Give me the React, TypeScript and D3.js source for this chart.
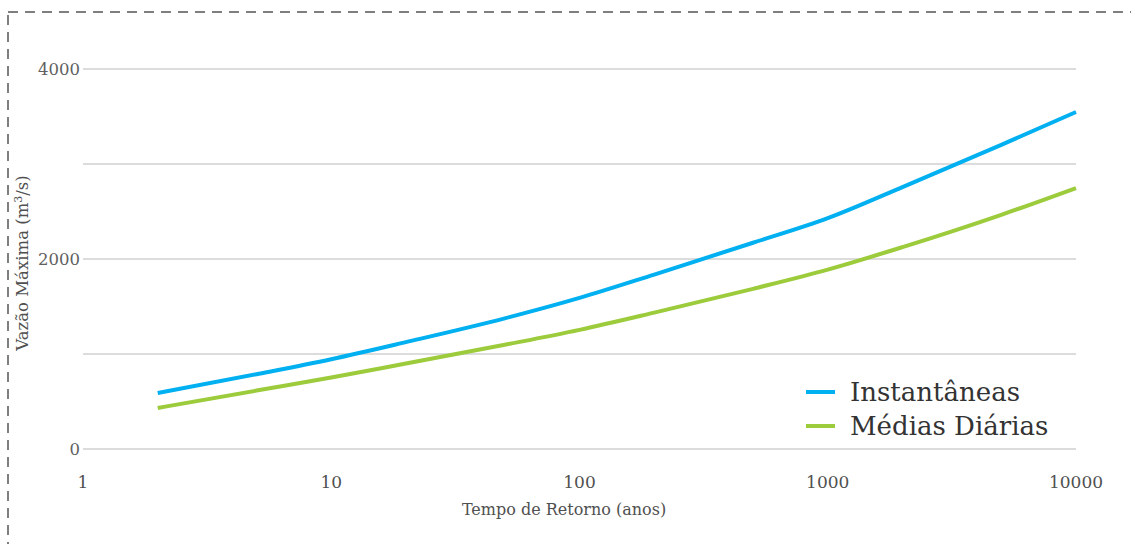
import React from "react";
import * as d3 from "d3";

const returnPeriods = [2, 5, 10, 20, 50, 100, 200, 500, 1000, 2000, 5000, 10000];
const instantaneas = [589, 787, 945, 1125, 1375, 1590, 1836, 2171, 2430, 2757, 3201, 3547];
const mediasDiarias = [432, 615, 752, 900, 1097, 1254, 1435, 1686, 1888, 2125, 2465, 2747];
const xTicks = [1, 10, 100, 1000, 10000];
const yTicks = [0, 1000, 2000, 3000, 4000];
const yLabelTicks = [0, 2000, 4000];
const seriesNames = ["Instantâneas", "Médias Diárias"];
const seriesColors = ["#00b0f0", "#9ccb3b"];

const W = 1131;
const H = 544;
const FONT = "'DejaVu Serif', serif";

export default function App() {
  const x = d3.scaleLog().domain([1, 10000]).range([83, 1076]);
  const y = d3.scaleLinear().domain([0, 4000]).range([449, 69]);
  const line = d3
    .line<number>()
    .x((_, i) => x(returnPeriods[i]))
    .y((d) => y(d))
    .curve(d3.curveMonotoneX);
  const series = [instantaneas, mediasDiarias];

  return (
    <svg
      width={W}
      height={H}
      style={{ position: "absolute", left: 0, top: 0, background: "#fff" }}
    >
      <rect
        x={8}
        y={12}
        width={W + 20}
        height={H + 20}
        fill="none"
        stroke="#555"
        strokeWidth={1.5}
        strokeDasharray="10,7"
      />
      {yTicks.map((t) => (
        <line
          key={t}
          x1={83}
          x2={1076}
          y1={y(t)}
          y2={y(t)}
          stroke="#dcdcdc"
          strokeWidth={2}
        />
      ))}
      {yLabelTicks.map((t) => (
        <text
          key={t}
          x={80}
          y={y(t)}
          dy="0.35em"
          textAnchor="end"
          fontFamily={FONT}
          fontSize={16.5}
          fill="#606060"
        >
          {t}
        </text>
      ))}
      {xTicks.map((t) => (
        <text
          key={t}
          x={x(t)}
          y={488}
          textAnchor="middle"
          fontFamily={FONT}
          fontSize={17}
          fill="#505050"
        >
          {t}
        </text>
      ))}
      <text
        x={564}
        y={515}
        textAnchor="middle"
        fontFamily={FONT}
        fontSize={16}
        fill="#505050"
      >
        Tempo de Retorno (anos)
      </text>
      <text
        transform="translate(28,263) rotate(-90)"
        textAnchor="middle"
        fontFamily={FONT}
        fontSize={16.5}
        fill="#505050"
      >
        Vazão Máxima (m<tspan dy="-6" fontSize={11}>3</tspan>
        <tspan dy="6">/s)</tspan>
      </text>
      {series.map((s, i) => (
        <path
          key={i}
          d={line(s) || ""}
          fill="none"
          stroke={seriesColors[i]}
          strokeWidth={4}
          strokeLinecap="butt"
        />
      ))}
      {seriesNames.map((n, i) => (
        <g key={n} transform={`translate(806,${392 + i * 34})`}>
          <line x1={0} x2={29} y1={0} y2={0} stroke={seriesColors[i]} strokeWidth={4} />
          <text
            x={44}
            y={0}
            dy="0.35em"
            fontFamily={FONT}
            fontSize={26}
            fill="#333"
          >
            {n}
          </text>
        </g>
      ))}
    </svg>
  );
}
